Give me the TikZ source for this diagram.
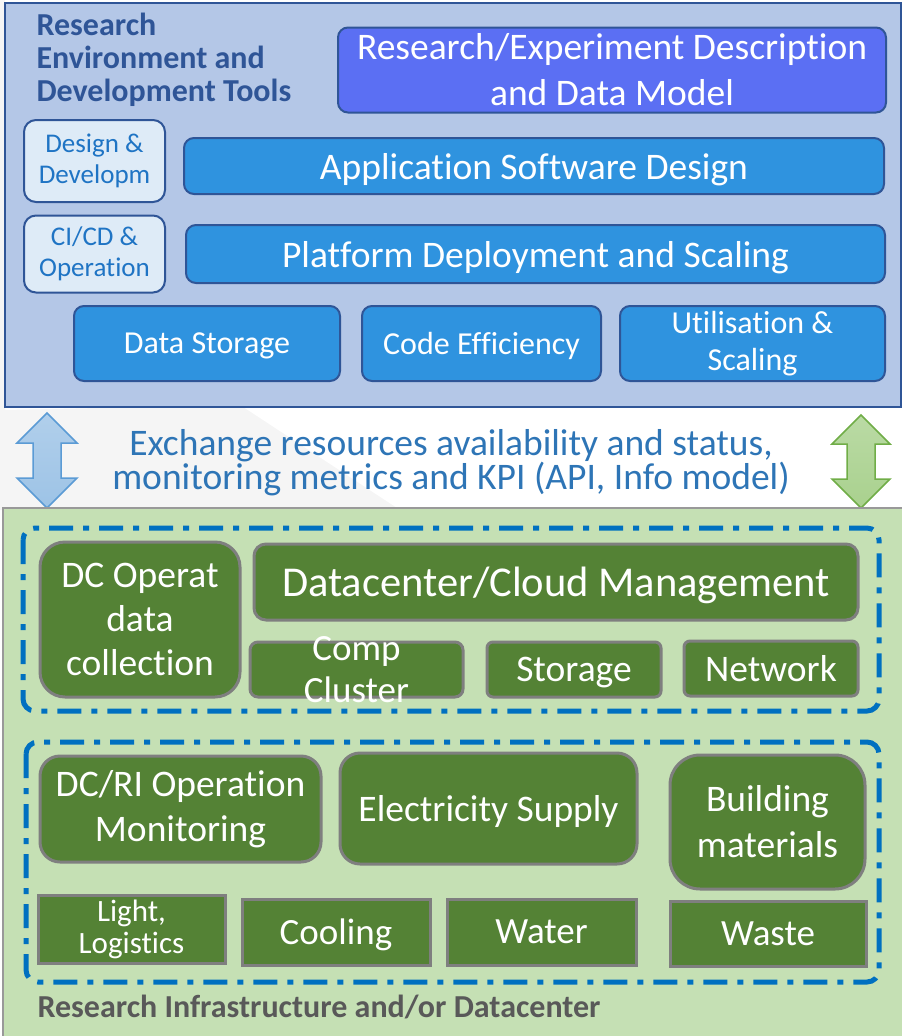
\documentclass[tikz,border=0pt]{standalone}
\usepackage{fontspec}
\setmainfont{Carlito}[Ligatures=NoCommon]
\usetikzlibrary{positioning}

\definecolor{envfill}{HTML}{B4C7E7}
\definecolor{envline}{HTML}{2F5597}
\definecolor{descblue}{HTML}{5B6FF3}
\definecolor{appblue}{HTML}{2F93DF}
\definecolor{paleblue}{HTML}{DEEBF7}
\definecolor{paletext}{HTML}{1F74C4}
\definecolor{xchtext}{HTML}{2E75B6}
\definecolor{infrafill}{HTML}{C5E0B4}
\definecolor{greyline}{HTML}{7F7F7F}
\definecolor{opgreen}{HTML}{548235}
\definecolor{zoneblue}{HTML}{0070C0}
\definecolor{labelgrey}{HTML}{595959}
\definecolor{arrowblue}{HTML}{9DC3E6}
\definecolor{arrowblueline}{HTML}{5B9BD5}
\definecolor{arrowgreen}{HTML}{A9D18E}
\definecolor{arrowgreenline}{HTML}{70AD47}

\tikzset{
  toolbox/.style={draw=envline, line width=2pt, rounded corners=10pt, fill=appblue, text=white, align=center, inner sep=0pt},
  palebox/.style={draw=envline, line width=2pt, rounded corners=12pt, fill=paleblue, text=paletext, align=center, inner sep=0pt, font=\fontsize{27}{31}\selectfont},
  opbox/.style={draw=greyline, line width=3pt, fill=opgreen, text=white, align=center, inner sep=0pt},
  oneline/.style={text depth=0pt},
  zone/.style={draw=zoneblue, line width=5pt, dash pattern=on 24pt off 10pt on 6pt off 10pt, rounded corners=12pt},
}

\begin{document}
\begin{tikzpicture}[x=1pt, y=-1pt]
	\useasboundingbox (0,0) rectangle (902,1036);
	% faint texture between the panels
	\fill[black!4] (0,0) -- (5,0) -- (5,410) -- (240,405) -- (400,510) -- (0,510) -- cycle;

	% research environment panel
	\filldraw[draw=envline, line width=2pt, fill=envfill] (5,3) rectangle (901,407);
	\node[anchor=west, text=envline, align=left, font=\fontsize{32}{33}\selectfont\bfseries] (envtitle) at (33,60) {Research\\Environment and\\Development Tools};
	\node[toolbox, fill=descblue, minimum width=548, minimum height=85, font=\fontsize{37.5}{46}\selectfont] (expdesc) at (612,70) {Research/Experiment Description\\and Data Model};
	\node[toolbox, oneline, minimum width=700, minimum height=56, font=\fontsize{37.5}{40}\selectfont] (appsw) at (534,166) {Application Software Design};
	\node[toolbox, oneline, minimum width=699, minimum height=58, font=\fontsize{37.5}{40}\selectfont] (platform) at (535.5,254) {Platform Deployment and Scaling};
	\node[palebox, minimum width=141, minimum height=82] (design) at (94.5,161) {Design \&\\Developm};
	\node[palebox, minimum width=141, minimum height=77] (cicd) at (94.5,254) {CI/CD \&\\Operation};
	\node[toolbox, oneline, minimum width=266, minimum height=75, font=\fontsize{32}{37}\selectfont] (storage) at (207,343.5) {Data Storage};
	\node[toolbox, oneline, minimum width=239, minimum height=75, font=\fontsize{32}{37}\selectfont] (codeeff) at (481.5,343.5) {Code Efficiency};
	\node[toolbox, minimum width=265, minimum height=75, font=\fontsize{32}{37}\selectfont] (util) at (752.5,343.5) {Utilisation \&\\Scaling};

	% exchange arrows and text
	\filldraw[draw=arrowblueline, line width=1.5pt, top color=arrowblue!80!white, bottom color=arrowblue] (47,413) -- (77,443) -- (61,443) -- (61,478) -- (77,478) -- (47,508) -- (17,478) -- (33,478) -- (33,443) -- (17,443) -- cycle;
	\filldraw[draw=arrowgreenline, line width=1.5pt, top color=arrowgreen!80!white, bottom color=arrowgreen] (861,415) -- (890,444) -- (875,444) -- (875,479) -- (890,479) -- (861,508) -- (832,479) -- (847,479) -- (847,444) -- (832,444) -- cycle;
	\node[text=xchtext, align=center, font=\fontsize{37.5}{34}\selectfont] (xchange) at (451,463) {Exchange resources availability and status,\\monitoring metrics and KPI (API, Info model)};

	% infrastructure panel
	\filldraw[draw=greyline!80, line width=2pt, fill=infrafill] (3,508) rectangle (906,1040);
	\draw[zone] (23,528) rectangle (879,711);
	\draw[zone] (26,742) rectangle (879,982);
	\node[opbox, rounded corners=25pt, minimum width=200, minimum height=155, font=\fontsize{37.5}{44}\selectfont] (dcop) at (140,619.5) {DC Operat\\data\\collection};
	\node[opbox, oneline, rounded corners=12pt, minimum width=604, minimum height=76, font=\fontsize{42.5}{44}\selectfont] (dccloud) at (556,582) {Datacenter/Cloud Management};
	\node[opbox, rounded corners=8pt, minimum width=213, minimum height=55] (comp) at (356.5,669.5) {};
	\node[text=white, align=center, font=\fontsize{37}{42}\selectfont] (comptext) at (comp) {Comp\\Cluster};
	\node[opbox, oneline, rounded corners=6pt, minimum width=174, minimum height=55, font=\fontsize{37.5}{40}\selectfont] (stor) at (574,669.5) {Storage};
	\node[opbox, oneline, rounded corners=6pt, minimum width=174, minimum height=55, font=\fontsize{37.5}{40}\selectfont] (network) at (771,668.5) {Network};
	\node[opbox, rounded corners=20pt, minimum width=281, minimum height=106, font=\fontsize{37.5}{45}\selectfont] (dcri) at (180.5,809) {DC/RI Operation\\Monitoring};
	\node[opbox, oneline, rounded corners=20pt, minimum width=297, minimum height=111, font=\fontsize{37.5}{45}\selectfont] (elec) at (488.5,808.5) {Electricity Supply};
	\node[opbox, rounded corners=30pt, minimum width=195, minimum height=134, font=\fontsize{37.5}{46}\selectfont] (build) at (767.5,822) {Building\\materials};
	\node[opbox, minimum width=187, minimum height=68, font=\fontsize{31}{32}\selectfont] (light) at (131.5,929) {Light,\\Logistics};
	\node[opbox, oneline, minimum width=188, minimum height=66, font=\fontsize{37}{40}\selectfont] (cool) at (336,932) {Cooling};
	\node[opbox, oneline, minimum width=189, minimum height=66, font=\fontsize{37}{40}\selectfont] (water) at (541.5,932) {Water};
	\node[opbox, oneline, minimum width=196, minimum height=65, font=\fontsize{37}{40}\selectfont] (waste) at (768,933.5) {Waste};
	\node[anchor=west, text=labelgrey, font=\fontsize{32}{32}\selectfont\bfseries] (infratitle) at (34,1007) {Research Infrastructure and/or Datacenter};
\end{tikzpicture}
\end{document}
